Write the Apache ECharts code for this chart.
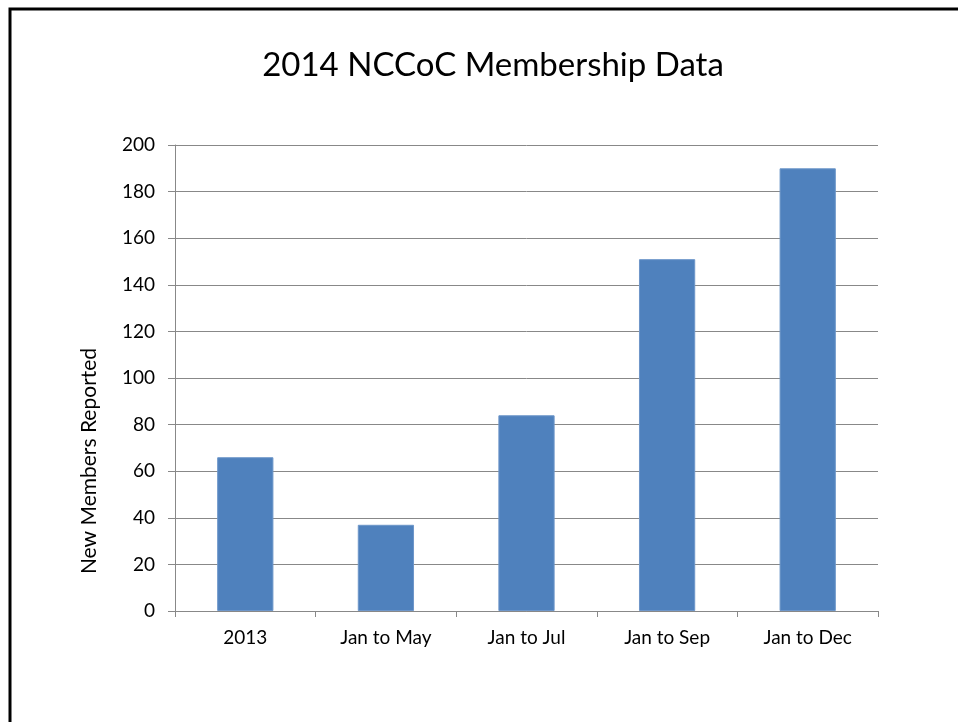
<!DOCTYPE html>
<html>
<head>
<meta charset="utf-8">
<script src="https://cdn.jsdelivr.net/npm/echarts@6/dist/echarts.min.js"></script>
<style>
html, body { margin: 0; padding: 0; background: #fff; }
#chart { width: 958px; height: 722px; }
</style>
</head>
<body>
<div id="chart"></div>
<script>
var categories = ['2013', 'Jan to May', 'Jan to Jul', 'Jan to Sep', 'Jan to Dec'];
var members = [66, 37, 84, 151, 190];
var yTicks = { min: 0, max: 200, interval: 20 };

var chart = echarts.init(document.getElementById('chart'));
var font = 'Lato, "Open Sans", sans-serif';

var option = {
    backgroundColor: '#fff',
    title: {
        text: '2014 NCCoC Membership Data',
        left: 488,
        top: 44,
        textAlign: 'center',
        textStyle: { fontFamily: font, fontSize: 33, fontWeight: 'normal', color: '#000' }
    },
    grid: { left: 175, right: 80, top: 145, bottom: 111 },
    xAxis: {
        type: 'category',
        data: categories,
        axisLine: { lineStyle: { color: '#888', width: 1 } },
        axisTick: { show: true, length: 6, lineStyle: { color: '#888' } },
        axisLabel: { margin: 17, fontFamily: font, fontSize: 19, color: '#000' }
    },
    yAxis: {
        type: 'value',
        min: yTicks.min,
        max: yTicks.max,
        interval: yTicks.interval,
        axisLine: { show: true, lineStyle: { color: '#888', width: 1 } },
        axisTick: { show: true, length: 7, lineStyle: { color: '#888' } },
        axisLabel: { margin: 20, fontFamily: font, fontSize: 19, color: '#000' },
        splitLine: { lineStyle: { color: '#888', width: 1 } }
    },
    series: [{
        type: 'bar',
        data: members,
        barWidth: '40%',
        itemStyle: { color: '#4F81BD', borderColor: '#6d96c9', borderWidth: 1 }
    }],
    graphic: [
        {
            type: 'rect',
            shape: { x: 10, y: 9, width: 1000, height: 1000 },
            style: { fill: 'none', stroke: '#000', lineWidth: 3 }
        },
        {
            type: 'text',
            x: 89,
            y: 461,
            rotation: Math.PI / 2,
            style: {
                text: 'New Members Reported',
                font: '21px ' + font,
                fill: '#000',
                align: 'center',
                verticalAlign: 'middle'
            }
        }
    ]
};

chart.setOption(option);
</script>
</body>
</html>
